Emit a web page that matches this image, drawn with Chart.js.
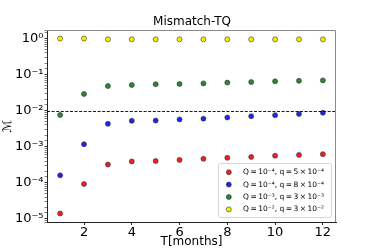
<!DOCTYPE html>
<html>
<head>
<meta charset="utf-8">
<script src="https://cdn.jsdelivr.net/npm/chart.js@4"></script>
<style>
  html, body { margin: 0; padding: 0; background: #fff; }
  #wrap { width: 374px; height: 249px; }
</style>
</head>
<body>
<div id="wrap"><canvas id="c" width="374" height="249"></canvas></div>
<script>
// ---- data ----
const months = [1, 2, 3, 4, 5, 6, 7, 8, 9, 10, 11, 12];
const seriesLabels = [
  "Q\u2009=\u200910\u207B\u2074, q\u2009=\u20095\u2009\u00D7\u200910\u207B\u2074",
  "Q\u2009=\u200910\u207B\u2074, q\u2009=\u20098\u2009\u00D7\u200910\u207B\u2074",
  "Q\u2009=\u200910\u207B\u00B3, q\u2009=\u20093\u2009\u00D7\u200910\u207B\u00B3",
  "Q\u2009=\u200910\u207B\u00B2, q\u2009=\u20093\u2009\u00D7\u200910\u207B\u00B2"
];
const redValues    = [1.4e-5, 9.2e-5, 3.2e-4, 3.9e-4, 4.0e-4, 4.3e-4, 4.6e-4, 4.9e-4, 5.2e-4, 5.6e-4, 5.9e-4, 6.2e-4];
const blueValues   = [1.6e-4, 1.17e-3, 4.3e-3, 5.2e-3, 5.3e-3, 5.7e-3, 6.0e-3, 6.45e-3, 7.0e-3, 7.5e-3, 8.1e-3, 8.7e-3];
const greenValues  = [7.6e-3, 0.029, 0.048, 0.0515, 0.054, 0.055, 0.057, 0.060, 0.062, 0.065, 0.067, 0.069];
const yellowValues = [1.0, 1.0, 0.95, 0.95, 0.95, 0.95, 0.95, 0.95, 0.95, 0.95, 0.95, 0.95];
const thresholdValue = 0.01;
const xTickStep = 2;

const SUP = {'-': '\u207B', '0': '\u2070', '1': '\u00B9', '2': '\u00B2', '3': '\u00B3', '4': '\u2074', '5': '\u2075', '6': '\u2076', '7': '\u2077', '8': '\u2078', '9': '\u2079'};
function sup(n) { return String(n).split('').map(c => SUP[c]).join(''); }

function toPoints(vals) { return months.map((m, i) => ({x: m, y: vals[i]})); }

const colors = ['#ee2020', '#2424e6', '#2a8a2a', '#f2f200'];
const allVals = [redValues, blueValues, greenValues, yellowValues];

const datasets = allVals.map((vals, i) => ({
  label: seriesLabels[i],
  data: toPoints(vals),
  backgroundColor: colors[i],
  borderColor: '#333',
  pointBorderWidth: 0.6,
  pointRadius: 2.5,
  pointHoverRadius: 2.5
}));

// dashed horizontal reference line + top/right frame
const extrasPlugin = {
  id: 'extras',
  afterDatasetsDraw(chart) {
    const ctx = chart.ctx, a = chart.chartArea;
    const y = Math.round(chart.scales.y.getPixelForValue(thresholdValue)) + 0.5;
    ctx.save();
    ctx.strokeStyle = '#000';
    ctx.lineWidth = 0.9;
    ctx.setLineDash([3, 1.6]);
    ctx.beginPath();
    ctx.moveTo(a.left, y);
    ctx.lineTo(a.right, y);
    ctx.stroke();
    ctx.setLineDash([]);
    ctx.strokeStyle = '#8a8a8a';
    ctx.lineWidth = 1;
    ctx.beginPath();
    ctx.moveTo(a.left, a.top + 0.5);
    ctx.lineTo(a.right - 0.5, a.top + 0.5);
    ctx.lineTo(a.right - 0.5, a.bottom);
    ctx.stroke();
    ctx.restore();
  }
};

// legend box in the lower right, like matplotlib's
const boxLegendPlugin = {
  id: 'boxLegend',
  afterDraw(chart) {
    const ctx = chart.ctx, a = chart.chartArea;
    const ds = chart.data.datasets;
    const w = 113, rowH = 12.4, h = 54;
    const x0 = a.right - 4.5 - w, y0 = a.bottom - 4.5 - h;
    ctx.save();
    ctx.fillStyle = 'rgba(255,255,255,0.85)';
    ctx.strokeStyle = '#d6d6d6';
    ctx.lineWidth = 1;
    ctx.beginPath();
    if (ctx.roundRect) ctx.roundRect(x0, y0, w, h, 2); else ctx.rect(x0, y0, w, h);
    ctx.fill();
    ctx.stroke();
    ctx.font = '7.5px "DejaVu Sans"';
    ctx.textBaseline = 'middle';
    ctx.textAlign = 'left';
    ds.forEach((d, i) => {
      const cy = y0 + 8.7 + i * rowH;
      ctx.beginPath();
      ctx.arc(x0 + 10.3, cy, 2.5, 0, Math.PI * 2);
      ctx.fillStyle = d.backgroundColor;
      ctx.fill();
      ctx.lineWidth = 0.6;
      ctx.strokeStyle = '#333';
      ctx.stroke();
      ctx.fillStyle = '#000';
      ctx.fillText(d.label, x0 + 24.5, cy, w - 27);
    });
    ctx.restore();
  }
};

new Chart(document.getElementById('c'), {
  type: 'scatter',
  data: { datasets },
  options: {
    responsive: false,
    devicePixelRatio: 1,
    animation: false,
    events: [],
    layout: { padding: { left: 10, right: 0, top: 0, bottom: 0 } },
    plugins: {
      legend: { display: false },
      tooltip: { enabled: false },
      title: {
        display: true,
        text: 'Mismatch-TQ',
        color: '#000',
        font: { family: 'DejaVu Sans', size: 12, weight: 'normal' },
        padding: { top: 15, bottom: 0.6 }
      }
    },
    scales: {
      x: {
        type: 'linear',
        position: 'bottom',
        min: 0.45,
        max: 12.55,
        afterFit(s) { s.height = 27; },
        border: { display: true, color: '#222', width: 1 },
        grid: { display: true, drawOnChartArea: false, drawTicks: true, tickLength: 3, color: '#222' },
        ticks: {
          stepSize: xTickStep,
          includeBounds: false,
          padding: 0,
          color: '#000',
          font: { family: 'DejaVu Sans', size: 13 },
          maxRotation: 0
        },
        title: {
          display: true,
          text: 'T[months]',
          color: '#000',
          font: { family: 'DejaVu Sans', size: 12 },
          padding: { top: 0, bottom: 0.3 }
        }
      },
      y: {
        type: 'logarithmic',
        position: 'left',
        min: 8.13e-6,
        max: 1.726,
        afterFit(s) { s.width = 37; },
        border: { display: true, color: '#222', width: 1 },
        grid: {
          display: true, drawOnChartArea: false, drawTicks: true, tickLength: 2.5,
          tickColor: '#333',
          lineWidth: (c) => (c.tick && Math.abs(Math.log10(c.tick.value) - Math.round(Math.log10(c.tick.value))) < 1e-9) ? 1 : 0.6
        },
        ticks: {
          autoSkip: false,
          padding: 1,
          color: '#000',
          font: { family: 'DejaVu Sans', size: 13 },
          callback(v) {
            const e = Math.log10(v);
            const r = Math.round(e);
            return Math.abs(e - r) < 1e-9 ? '10' + sup(r) : '';
          }
        },
        title: {
          display: true,
          text: '\u2133',
          color: '#000',
          font: { family: 'DejaVu Sans', size: 12 },
          padding: { top: -9.5, bottom: 0 }
        }
      },
      yRight: {
        type: 'linear',
        position: 'right',
        display: true,
        afterFit(s) { s.width = 38; },
        border: { display: false },
        grid: { display: false },
        ticks: { display: false }
      }
    }
  },
  plugins: [extrasPlugin, boxLegendPlugin]
});
</script>
</body>
</html>
